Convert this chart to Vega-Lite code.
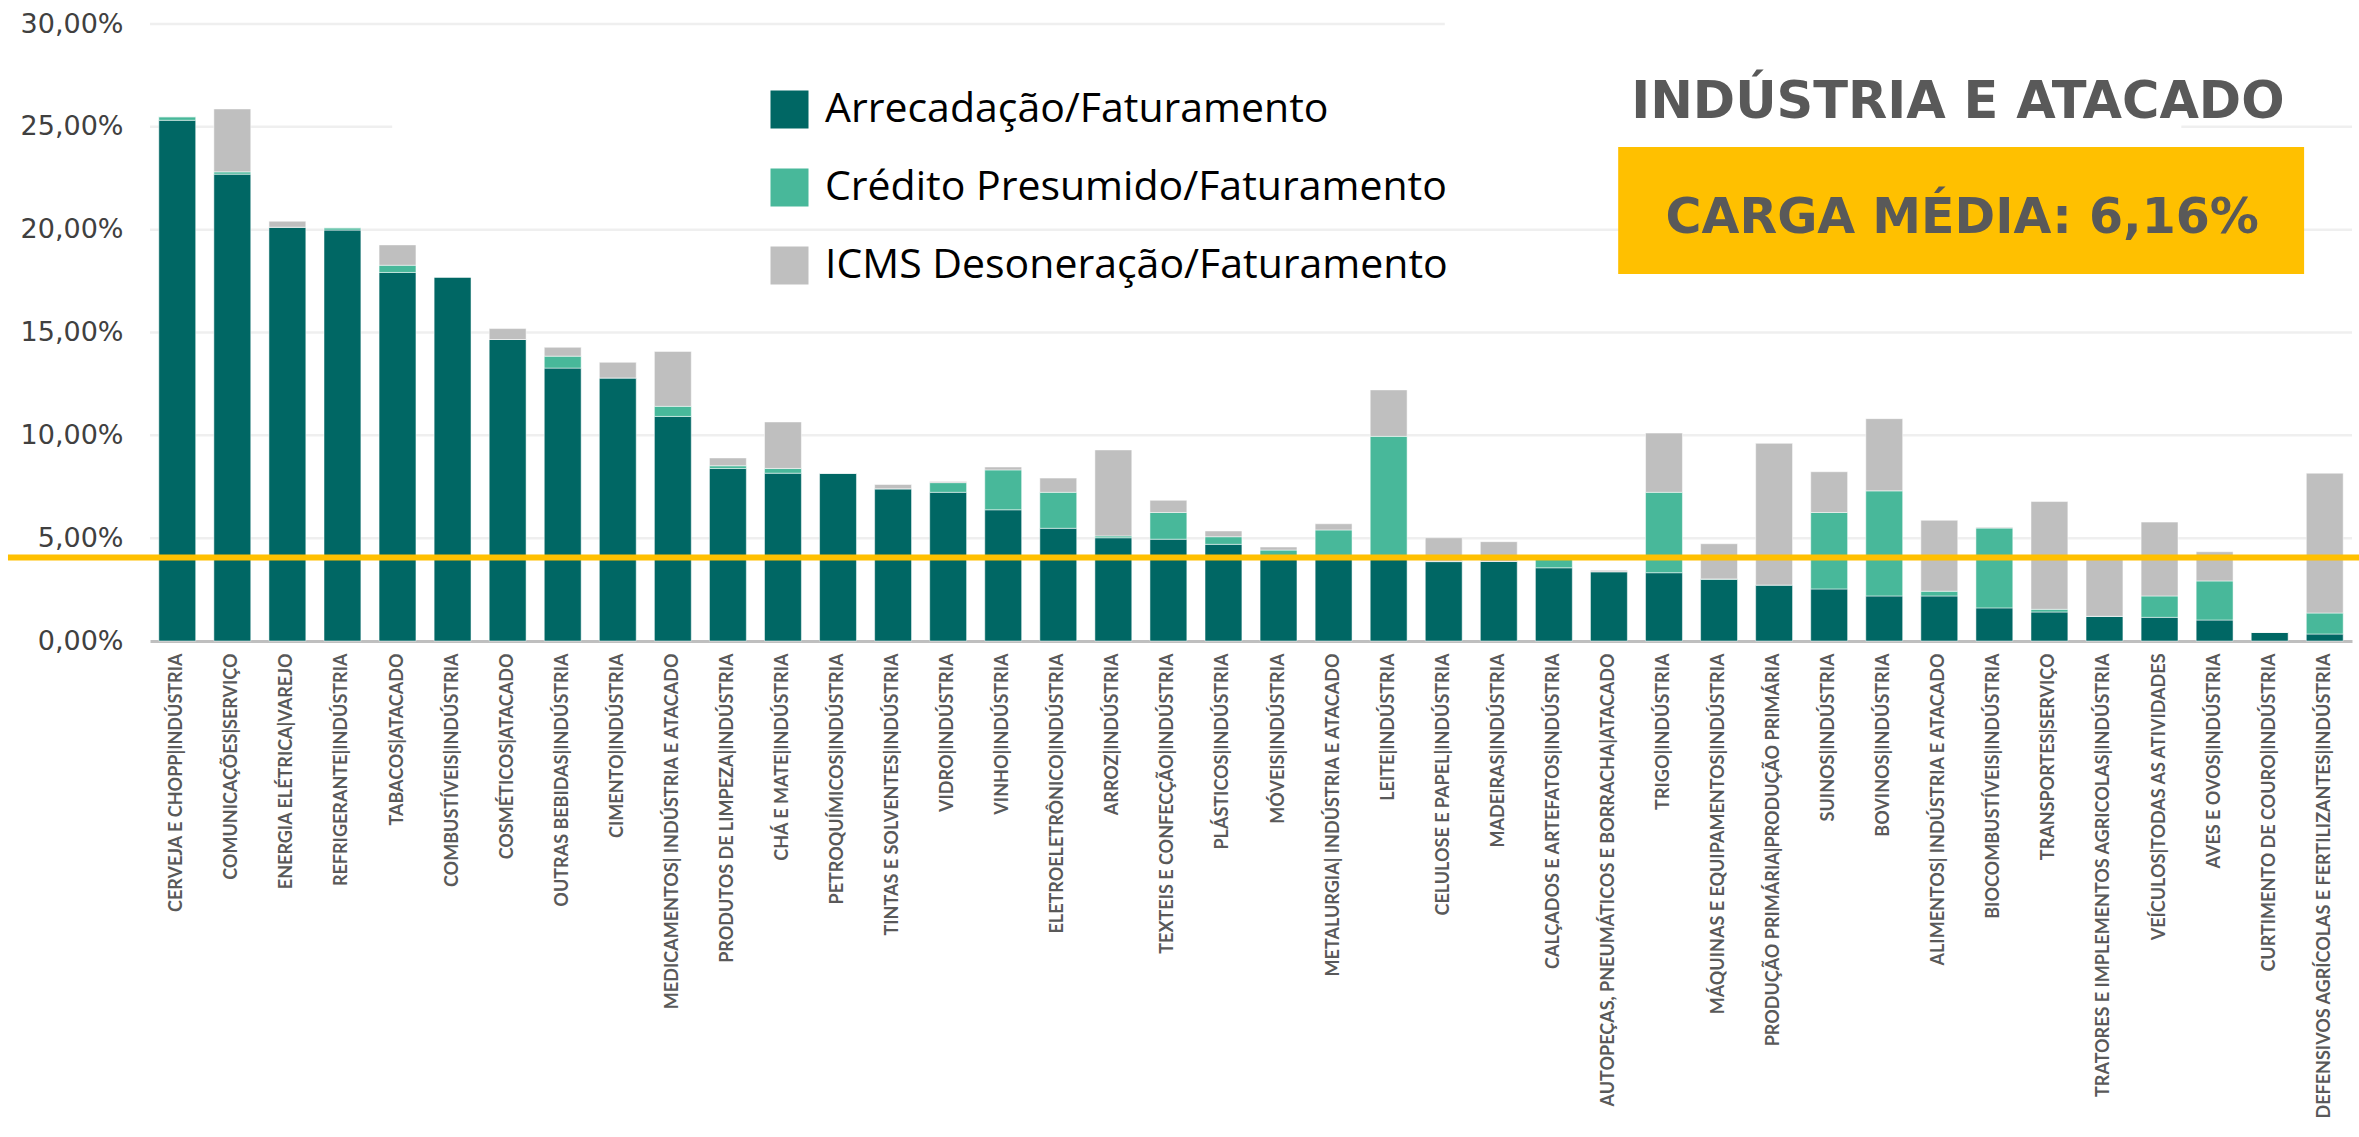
{
  "$schema": "https://vega.github.io/schema/vega-lite/v6.json",
  "width": 2202,
  "height": 617,
  "autosize": {"type": "none"},
  "padding": {"left": 150, "top": 24, "right": 7, "bottom": 496},
  "background": "white",
  "config": {"view": {"stroke": null}},
  "datasets": {
    "setores": [
      {"setor": "CERVEJA E CHOPP|INDÚSTRIA", "arrec": 25.32, "cred": 0.17, "deson": 0},
      {"setor": "COMUNICAÇÕES|SERVIÇO", "arrec": 22.70, "cred": 0.11, "deson": 3.06},
      {"setor": "ENERGIA ELÉTRICA|VAREJO", "arrec": 20.12, "cred": 0, "deson": 0.29},
      {"setor": "REFRIGERANTE|INDÚSTRIA", "arrec": 19.98, "cred": 0.11, "deson": 0},
      {"setor": "TABACOS|ATACADO", "arrec": 17.92, "cred": 0.35, "deson": 0.99},
      {"setor": "COMBUSTÍVEIS|INDÚSTRIA", "arrec": 17.70, "cred": 0, "deson": 0},
      {"setor": "COSMÉTICOS|ATACADO", "arrec": 14.66, "cred": 0, "deson": 0.53},
      {"setor": "OUTRAS BEBIDAS|INDÚSTRIA", "arrec": 13.27, "cred": 0.58, "deson": 0.43},
      {"setor": "CIMENTO|INDÚSTRIA", "arrec": 12.79, "cred": 0, "deson": 0.76},
      {"setor": "MEDICAMENTOS| INDÚSTRIA E ATACADO", "arrec": 10.92, "cred": 0.49, "deson": 2.67},
      {"setor": "PRODUTOS DE LIMPEZA|INDÚSTRIA", "arrec": 8.39, "cred": 0.13, "deson": 0.38},
      {"setor": "CHÁ E MATE|INDÚSTRIA", "arrec": 8.16, "cred": 0.23, "deson": 2.26},
      {"setor": "PETROQUÍMICOS|INDÚSTRIA", "arrec": 8.16, "cred": 0, "deson": 0},
      {"setor": "TINTAS E SOLVENTES|INDÚSTRIA", "arrec": 7.40, "cred": 0, "deson": 0.21},
      {"setor": "VIDRO|INDÚSTRIA", "arrec": 7.23, "cred": 0.47, "deson": 0.05},
      {"setor": "VINHO|INDÚSTRIA", "arrec": 6.38, "cred": 1.94, "deson": 0.14},
      {"setor": "ELETROELETRÔNICO|INDÚSTRIA", "arrec": 5.48, "cred": 1.75, "deson": 0.69},
      {"setor": "ARROZ|INDÚSTRIA", "arrec": 5.02, "cred": 0.09, "deson": 4.18},
      {"setor": "TEXTEIS E CONFECÇÃO|INDÚSTRIA", "arrec": 4.95, "cred": 1.30, "deson": 0.59},
      {"setor": "PLÁSTICOS|INDÚSTRIA", "arrec": 4.70, "cred": 0.37, "deson": 0.28},
      {"setor": "MÓVEIS|INDÚSTRIA", "arrec": 4.00, "cred": 0.42, "deson": 0.15},
      {"setor": "METALURGIA| INDÚSTRIA E ATACADO", "arrec": 4.00, "cred": 1.40, "deson": 0.30},
      {"setor": "LEITE|INDÚSTRIA", "arrec": 4.00, "cred": 5.95, "deson": 2.26},
      {"setor": "CELULOSE E PAPEL|INDÚSTRIA", "arrec": 3.86, "cred": 0.02, "deson": 1.14},
      {"setor": "MADEIRAS|INDÚSTRIA", "arrec": 3.87, "cred": 0, "deson": 0.96},
      {"setor": "CALÇADOS E ARTEFATOS|INDÚSTRIA", "arrec": 3.56, "cred": 0.46, "deson": 0},
      {"setor": "AUTOPEÇAS, PNEUMÁTICOS E BORRACHA|ATACADO", "arrec": 3.37, "cred": 0, "deson": 0.07},
      {"setor": "TRIGO|INDÚSTRIA", "arrec": 3.32, "cred": 3.91, "deson": 2.88},
      {"setor": "MÁQUINAS E EQUIPAMENTOS|INDÚSTRIA", "arrec": 3.00, "cred": 0.02, "deson": 1.71},
      {"setor": "PRODUÇÃO PRIMÁRIA|PRODUÇÃO PRIMÁRIA", "arrec": 2.72, "cred": 0, "deson": 6.89},
      {"setor": "SUINOS|INDÚSTRIA", "arrec": 2.53, "cred": 3.72, "deson": 1.98},
      {"setor": "BOVINOS|INDÚSTRIA", "arrec": 2.19, "cred": 5.11, "deson": 3.51},
      {"setor": "ALIMENTOS| INDÚSTRIA E ATACADO", "arrec": 2.19, "cred": 0.23, "deson": 3.45},
      {"setor": "BIOCOMBUSTÍVEIS|INDÚSTRIA", "arrec": 1.61, "cred": 3.88, "deson": 0.04},
      {"setor": "TRANSPORTES|SERVIÇO", "arrec": 1.41, "cred": 0.13, "deson": 5.24},
      {"setor": "TRATORES E IMPLEMENTOS AGRICOLAS|INDÚSTRIA", "arrec": 1.20, "cred": 0, "deson": 2.80},
      {"setor": "VEÍCULOS|TODAS AS ATIVIDADES", "arrec": 1.15, "cred": 1.04, "deson": 3.59},
      {"setor": "AVES E OVOS|INDÚSTRIA", "arrec": 1.02, "cred": 1.90, "deson": 1.42},
      {"setor": "CURTIMENTO DE COURO|INDÚSTRIA", "arrec": 0.42, "cred": 0, "deson": 0},
      {"setor": "DEFENSIVOS AGRÍCOLAS E FERTILIZANTES|INDÚSTRIA", "arrec": 0.34, "cred": 1.02, "deson": 6.80}
    ],
    "grade": [
      {"nivel": 30, "u0": 0, "u1": 23.52},
      {"nivel": 25, "u0": 0, "u1": 4.40},
      {"nivel": 25, "u0": 36.9, "u1": 40},
      {"nivel": 20, "u0": 0, "u1": 40},
      {"nivel": 15, "u0": 0, "u1": 40},
      {"nivel": 10, "u0": 0, "u1": 40},
      {"nivel": 5, "u0": 0, "u1": 40}
    ],
    "media": [{"nivel": 4.06, "u0": -2.58, "u1": 40.13}],
    "caixa": [{"u0": 26.67, "u1": 39.13, "y0": 24.02, "y1": 17.84}],
    "titulo": [{"texto": "INDÚSTRIA E ATACADO", "u": 32.84, "nivel": 25.45}],
    "carga": [{"texto": "CARGA MÉDIA: 6,16%", "u": 32.92, "nivel": 19.83}]
  },
  "layer": [
    {
      "data": {"name": "grade"},
      "mark": {"type": "rule", "color": "#EFEFEF", "strokeWidth": 2.5},
      "encoding": {
        "x": {"field": "u0", "type": "quantitative", "scale": {"domain": [0, 40], "nice": false, "zero": false}, "axis": null},
        "x2": {"field": "u1"},
        "y": {"field": "nivel", "type": "quantitative"}
      }
    },
    {
      "data": {"name": "setores"},
      "transform": [{"fold": ["arrec", "cred", "deson"], "as": ["comp", "valor"]}],
      "mark": {"type": "bar", "stroke": "#ffffff", "strokeWidth": 1, "strokeOpacity": 0.5},
      "encoding": {
        "x": {
          "field": "setor", "type": "nominal", "sort": null,
          "scale": {"paddingInner": 0.33, "paddingOuter": 0.16},
          "axis": {
            "title": null, "labelAngle": -90, "labelFont": "Lato", "labelFontWeight": "bold",
            "labelFontSize": 18, "labelColor": "#595959", "labelPadding": 12, "ticks": false,
            "domainColor": "#BFBFBF", "domainWidth": 3, "labelLimit": 0, "labelOverlap": false
          }
        },
        "y": {
          "field": "valor", "type": "quantitative", "stack": "zero",
          "scale": {"domain": [0, 30], "nice": false},
          "axis": {
            "title": null, "values": [0, 5, 10, 15, 20, 25, 30],
            "labelExpr": "replace(format(datum.value, '.2f'), '.', ',') + '%'",
            "labelFont": "DejaVu Sans", "labelFontSize": 27, "labelColor": "#404040",
            "labelPadding": 27, "ticks": false, "domain": false, "grid": false
          }
        },
        "color": {
          "field": "comp", "type": "nominal",
          "scale": {"domain": ["arrec", "cred", "deson"], "range": ["#006764", "#48B89A", "#BFBFBF"]},
          "legend": {
            "title": null, "orient": "none", "legendX": 619, "legendY": 65, "direction": "vertical",
            "symbolType": "square", "symbolSize": 1444, "symbolStrokeWidth": 0,
            "labelFont": "Open Sans", "labelFontSize": 41, "labelOffset": 15, "rowPadding": 36,
            "padding": 0, "labelLimit": 0,
            "labelExpr": "datum.value === 'arrec' ? 'Arrecadação/Faturamento' : datum.value === 'cred' ? 'Crédito Presumido/Faturamento' : 'ICMS Desoneração/Faturamento'",
            "encode": {
              "labels": {"update": {"fill": {"signal": "datum.value === 'arrec' ? '#254B48' : datum.value === 'cred' ? '#2E9477' : '#7F7F7F'"}}},
              "symbols": {"update": {"fill": {"signal": "datum.value === 'arrec' ? '#006764' : datum.value === 'cred' ? '#48B89A' : '#A6A6A6'"}, "opacity": {"value": 1}}}
            }
          }
        },
        "order": {"field": "comp", "sort": "ascending"}
      }
    },
    {
      "data": {"name": "media"},
      "mark": {"type": "rule", "color": "#FFC000", "strokeWidth": 6},
      "encoding": {
        "x": {"field": "u0", "type": "quantitative", "scale": {"domain": [0, 40], "nice": false, "zero": false}, "axis": null},
        "x2": {"field": "u1"},
        "y": {"field": "nivel", "type": "quantitative"}
      }
    },
    {
      "data": {"name": "caixa"},
      "mark": {"type": "rect", "color": "#FFC000"},
      "encoding": {
        "x": {"field": "u0", "type": "quantitative", "scale": {"domain": [0, 40], "nice": false, "zero": false}, "axis": null},
        "x2": {"field": "u1"},
        "y": {"field": "y0", "type": "quantitative"},
        "y2": {"field": "y1"}
      }
    },
    {
      "data": {"name": "titulo"},
      "mark": {"type": "text", "font": "DejaVu Sans", "fontWeight": "bold", "fontSize": 51, "color": "#595959", "align": "center", "baseline": "alphabetic"},
      "encoding": {
        "x": {"field": "u", "type": "quantitative", "scale": {"domain": [0, 40], "nice": false, "zero": false}, "axis": null},
        "y": {"field": "nivel", "type": "quantitative"},
        "text": {"field": "texto"}
      }
    },
    {
      "data": {"name": "carga"},
      "mark": {"type": "text", "font": "DejaVu Sans", "fontWeight": "bold", "fontSize": 49, "color": "#595959", "align": "center", "baseline": "alphabetic"},
      "encoding": {
        "x": {"field": "u", "type": "quantitative", "scale": {"domain": [0, 40], "nice": false, "zero": false}, "axis": null},
        "y": {"field": "nivel", "type": "quantitative"},
        "text": {"field": "texto"}
      }
    }
  ],
  "resolve": {"scale": {"x": "independent"}}
}
